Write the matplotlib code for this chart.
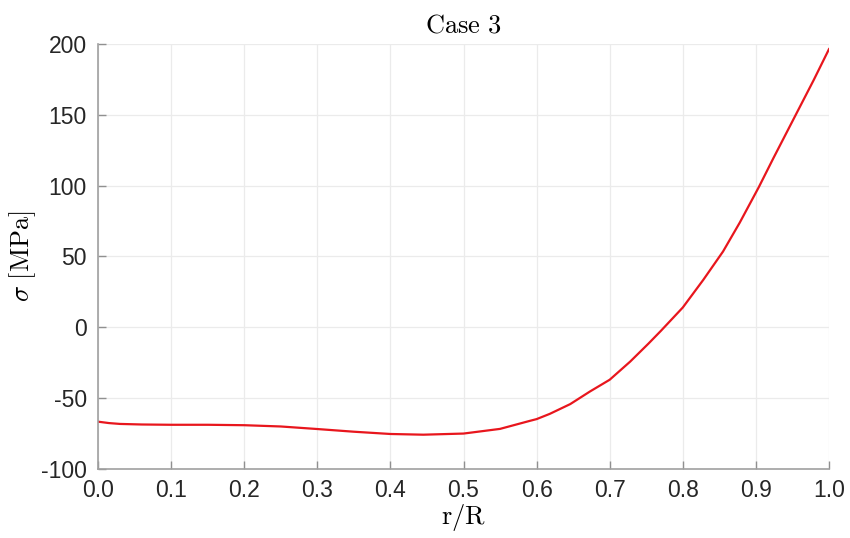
import matplotlib
matplotlib.use("Agg")
import matplotlib.pyplot as plt

plt.rcParams["mathtext.fontset"] = "cm"
plt.rcParams["font.family"] = ["Liberation Sans", "DejaVu Sans"]
plt.rcParams["axes.unicode_minus"] = False

# stress along the radius
r_over_R = [0.0, 0.015, 0.03, 0.06, 0.1, 0.15, 0.2, 0.25, 0.3, 0.35, 0.4,
            0.445, 0.5, 0.55, 0.591, 0.6, 0.618, 0.646, 0.673, 0.7, 0.728,
            0.753, 0.77, 0.8, 0.828, 0.855, 0.878, 0.904, 0.924, 0.954,
            0.979, 1.0]
sigma = [-66.6, -67.6, -68.2, -68.6, -68.8, -68.8, -69.1, -70.0, -71.8,
         -73.7, -75.3, -75.8, -75.0, -71.7, -66.0, -64.8, -61.1, -54.2,
         -45.3, -37.0, -24.2, -11.5, -2.5, 14.0, 33.5, 53.5, 74.0, 99.0,
         119.5, 149.5, 174.5, 196.4]

xticks = [0.0, 0.1, 0.2, 0.3, 0.4, 0.5, 0.6, 0.7, 0.8, 0.9, 1.0]
yticks = [-100, -50, 0, 50, 100, 150, 200]

fig = plt.figure(figsize=(8.5, 5.38), dpi=100)
ax = fig.add_axes([0.1153, 0.1283, 0.8600, 0.7899])

ax.plot(r_over_R, sigma, color="#e8161d", lw=1.6, solid_joinstyle="round")

ax.set_xlim(0, 1)
ax.set_ylim(-100, 200)
ax.set_xticks(xticks)
ax.set_xticklabels([f"{t:.1f}" for t in xticks])
ax.set_yticks(yticks)
ax.set_yticklabels([str(t) for t in yticks])

ax.grid(True, color="#ebebeb", lw=0.9)
ax.set_axisbelow(True)
for s in ["top", "right"]:
    ax.spines[s].set_visible(False)
for s in ["left", "bottom"]:
    ax.spines[s].set_color("#a0a0a0")
    ax.spines[s].set_linewidth(1.2)
ax.tick_params(direction="in", length=6, width=1.0, color="#909090",
               labelsize=16.5, labelcolor="#262626")
ax.tick_params(axis="y", pad=8)
ax.tick_params(axis="x", pad=7)

ax.set_title(r"$\mathrm{Case\ 3}$", fontsize=19, pad=8)
ax.set_xlabel(r"$\mathrm{r/R}$", fontsize=19, labelpad=0)
ax.set_ylabel(r"$\sigma\ \mathrm{[MPa]}$", fontsize=19, labelpad=2)

fig.savefig("out.png", dpi=100)
